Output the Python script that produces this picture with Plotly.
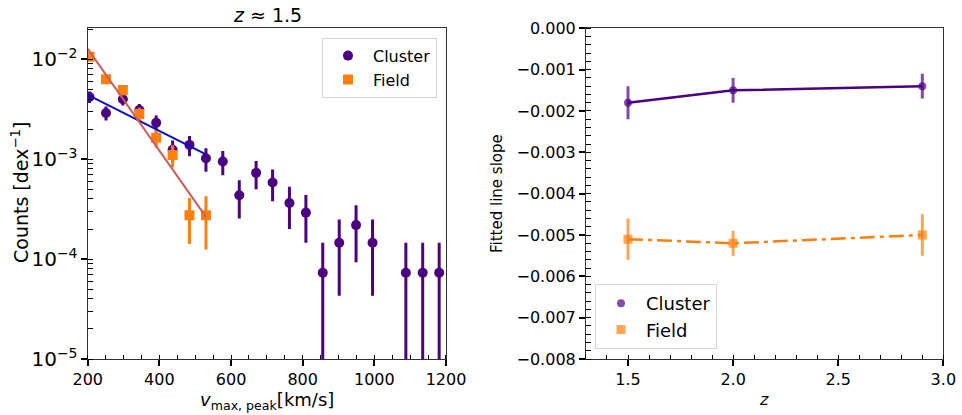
import plotly.graph_objects as go

# ---- left panel: velocity function at z ~ 1.5 ----
v_cluster = [205, 251, 298, 344, 391, 437, 484, 530, 577, 623, 670, 716, 763,
             809, 856, 902, 949, 995, 1088, 1135, 1181]
counts_cluster = [4.2e-3, 2.9e-3, 3.98e-3, 3.1e-3, 2.32e-3, 1.24e-3, 1.39e-3,
                  1.02e-3, 9.5e-4, 4.35e-4, 7.3e-4, 5.85e-4, 3.65e-4, 2.92e-4,
                  7.3e-5, 1.46e-4, 2.19e-4, 1.46e-4, 7.3e-5, 7.3e-5, 7.3e-5]
err_cluster = [5.5e-4, 4.6e-4, 5.4e-4, 4.7e-4, 4.1e-4, 3.0e-4, 3.2e-4,
               2.7e-4, 2.6e-4, 1.8e-4, 2.3e-4, 2.05e-4, 1.65e-4, 1.46e-4,
               7.3e-5, 1.03e-4, 1.26e-4, 1.03e-4, 7.3e-5, 7.3e-5, 7.3e-5]

v_field = [205, 251, 298, 344, 391, 437, 484, 530]
counts_field = [1.06e-2, 6.3e-3, 4.93e-3, 2.84e-3, 1.64e-3, 1.10e-3, 2.75e-4, 2.75e-4]
err_field = [8.5e-4, 6.6e-4, 5.8e-4, 4.4e-4, 3.4e-4, 2.75e-4, 1.33e-4, 1.5e-4]

# linear fits in log10(counts) vs v over the low-velocity range
fit_v = [200, 530]
fit_log0_cluster = -2.357   # log10 counts at v = 200
fit_log0_field = -1.895

# ---- right panel: fitted slopes vs redshift ----
z_vals = [1.5, 2.0, 2.9]
slope_cluster = [-0.0018, -0.0015, -0.0014]
slope_cluster_err = [0.0004, 0.0003, 0.0003]
slope_field = [-0.0051, -0.0052, -0.0050]
slope_field_err = [0.0005, 0.0003, 0.0005]

slope_ticks = [0.0, -0.001, -0.002, -0.003, -0.004, -0.005, -0.006, -0.007, -0.008]
slope_ticktext = ["0.000", "\u22120.001", "\u22120.002", "\u22120.003", "\u22120.004",
                  "\u22120.005", "\u22120.006", "\u22120.007", "\u22120.008"]
z_ticks = [1.5, 2.0, 2.5, 3.0]
z_ticktext = ["1.5", "2.0", "2.5", "3.0"]

PURPLE = "#4b0082"
PURPLE_A = "rgba(75,0,130,0.7)"
ORANGE = "#ff7f0e"
ORANGE_A = "rgba(255,127,14,0.7)"
FONT = "DejaVu Sans"

fig = go.Figure()

fig.add_trace(go.Scatter(
    x=v_cluster, y=counts_cluster, mode="markers", name="Cluster",
    marker=dict(symbol="circle", size=10, color=PURPLE),
    error_y=dict(type="data", array=err_cluster, color=PURPLE, thickness=3, width=0),
    xaxis="x", yaxis="y", legend="legend", legendgroup="c"))
fig.add_trace(go.Scatter(
    x=v_field, y=counts_field, mode="markers", name="Field",
    marker=dict(symbol="square", size=10, color=ORANGE),
    error_y=dict(type="data", array=err_field, color=ORANGE, thickness=3, width=0),
    xaxis="x", yaxis="y", legend="legend", legendgroup="f"))

fit_cluster = [10 ** (fit_log0_cluster + slope_cluster[0] * (v - fit_v[0])) for v in fit_v]
fit_field = [10 ** (fit_log0_field + slope_field[0] * (v - fit_v[0])) for v in fit_v]
fig.add_trace(go.Scatter(x=fit_v, y=fit_cluster, mode="lines", showlegend=False,
                         line=dict(color="#0a0acd", width=2), xaxis="x", yaxis="y"))
fig.add_trace(go.Scatter(x=fit_v, y=fit_field, mode="lines", showlegend=False,
                         line=dict(color="#cd5c5c", width=2), xaxis="x", yaxis="y"))

# right panel lines (opaque) and markers with errors (translucent)
fig.add_trace(go.Scatter(x=z_vals, y=slope_cluster, mode="lines", showlegend=False,
                         line=dict(color=PURPLE, width=2.5), xaxis="x2", yaxis="y2"))
fig.add_trace(go.Scatter(x=z_vals, y=slope_field, mode="lines", showlegend=False,
                         line=dict(color=ORANGE, width=2.5, dash="15px,5px,4px,5px"),
                         xaxis="x2", yaxis="y2"))
fig.add_trace(go.Scatter(
    x=z_vals, y=slope_cluster, mode="markers", name="Cluster",
    marker=dict(symbol="circle", size=8, color=PURPLE_A),
    error_y=dict(type="data", array=slope_cluster_err, color=PURPLE_A, thickness=3, width=0),
    xaxis="x2", yaxis="y2", legend="legend2", legendgroup="c2"))
fig.add_trace(go.Scatter(
    x=z_vals, y=slope_field, mode="markers", name="Field",
    marker=dict(symbol="square", size=9, color=ORANGE_A),
    error_y=dict(type="data", array=slope_field_err, color=ORANGE_A, thickness=3, width=0),
    xaxis="x2", yaxis="y2", legend="legend2", legendgroup="f2"))

LINE = "#333333"
tickfont = dict(family=FONT, size=16, color="black")
major = dict(ticks="outside", ticklen=6, tickwidth=2, tickcolor="black",
             showgrid=False, zeroline=False, showline=True, linecolor=LINE,
             linewidth=1, mirror=True, tickfont=tickfont, automargin=False)
inner = dict(ticks="inside", ticklen=5, tickwidth=2, tickcolor="black", automargin=False,
             showgrid=False, zeroline=False, showline=False, showticklabels=False)

dom_y = [0.1349, 0.9318]
dom_left = [0.0912, 0.4636]
dom_right = [0.6091, 0.9806]
x1_range = [200, 1200]
y1_range = [-5, -1.69]
x2_range = [1.3, 3.0]
y2_range = [-0.008, 0.0]

fig.update_layout(
    width=962, height=415,
    margin=dict(l=0, r=0, t=0, b=0, autoexpand=False),
    paper_bgcolor="white", plot_bgcolor="white",
    font=dict(family=FONT, color="black"),
    xaxis=dict(domain=dom_left, anchor="y", range=x1_range, dtick=200, tick0=0,
               minor=dict(ticks="inside", ticklen=4, tickwidth=1, tickcolor="black", dtick=50, tick0=0),
               **major),
    yaxis=dict(domain=dom_y, anchor="x", type="log", range=y1_range, dtick=1,
               exponentformat="power", showexponent="all",
               minor=dict(ticks="inside", ticklen=5, tickwidth=1, tickcolor="black", dtick="D1"),
               **major),
    xaxis3=dict(overlaying="x", anchor="y", side="bottom", range=x1_range, dtick=200, tick0=0, **inner),
    yaxis3=dict(overlaying="y", anchor="x", side="left", type="log", range=y1_range, dtick=1, **inner),
    xaxis2=dict(domain=dom_right, anchor="y2", range=x2_range, tickvals=z_ticks, ticktext=z_ticktext,
                minor=dict(ticks="inside", ticklen=4, tickwidth=1, tickcolor="black", dtick=0.1, tick0=0),
                **major),
    yaxis2=dict(domain=dom_y, anchor="x2", range=y2_range, tickvals=slope_ticks, ticktext=slope_ticktext,
                minor=dict(ticks="inside", ticklen=5, tickwidth=1, tickcolor="black", dtick=0.0002, tick0=0),
                **major),
    xaxis4=dict(overlaying="x2", anchor="y2", side="bottom", range=x2_range, tickvals=z_ticks, **inner),
    yaxis4=dict(overlaying="y2", anchor="x2", side="left", range=y2_range, tickvals=slope_ticks, **inner),
    legend=dict(x=437 / 962, xanchor="right", y=(415 - 37.7) / 415, yanchor="top",
                bgcolor="white", bordercolor="#d5d5d5", borderwidth=1,
                font=dict(family=FONT, size=16), tracegroupgap=0, itemwidth=40),
    legend2=dict(x=595 / 962, xanchor="left", y=(415 - 284) / 415, yanchor="top",
                 bgcolor="white", bordercolor="#d5d5d5", borderwidth=1,
                 font=dict(family=FONT, size=18), tracegroupgap=0, itemwidth=40),
    annotations=[
        dict(text="<i>z</i> \u2248 1.5", x=267 / 962, y=1 - 15 / 415, xref="paper", yref="paper",
             showarrow=False, font=dict(size=19), xanchor="center", yanchor="middle"),
        dict(text="<i>v</i><sub>max, peak</sub>[km/s]", x=267 / 962, y=1 - 401 / 415,
             xref="paper", yref="paper", showarrow=False, font=dict(size=18),
             xanchor="center", yanchor="middle"),
        dict(text="Counts [dex<sup>\u22121</sup>]", x=20 / 962, y=1 - 193 / 415,
             xref="paper", yref="paper", showarrow=False, font=dict(size=19), textangle=-90,
             xanchor="center", yanchor="middle"),
        dict(text="<i>z</i>", x=764 / 962, y=1 - 399 / 415, xref="paper", yref="paper",
             showarrow=False, font=dict(size=16), xanchor="center", yanchor="middle"),
        dict(text="Fitted line slope", x=497 / 962, y=1 - 194 / 415, xref="paper", yref="paper",
             showarrow=False, font=dict(size=15), textangle=-90,
             xanchor="center", yanchor="middle"),
    ],
)

fig.write_html("out.html")
